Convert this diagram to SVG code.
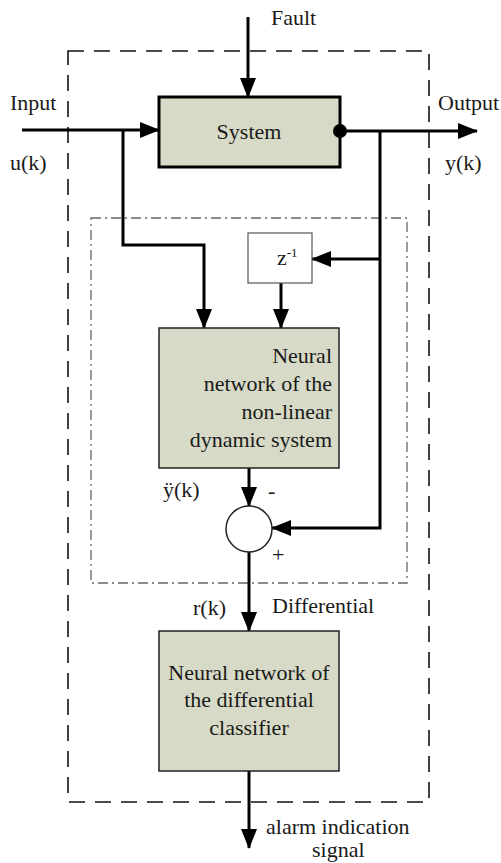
<svg xmlns="http://www.w3.org/2000/svg" width="501" height="863" viewBox="0 0 501 863">
<style>
text{font-family:'Liberation Serif','Times New Roman','DejaVu Serif',serif;font-size:22px;fill:#1a1a1a}
.box{fill:#d7dac6;stroke:#222;stroke-width:1.5}
.wire{fill:none;stroke:#000;stroke-width:3}
.arr{marker-end:url(#ah)}
</style>
<defs>
<marker id="ah" markerUnits="userSpaceOnUse" markerWidth="20" markerHeight="16" refX="19" refY="8" orient="auto">
<path d="M0,0 L20,8 L0,16 z" fill="#000"/>
</marker>
</defs>
<g id="frames">
<rect x="68" y="51" width="361" height="751" fill="none" stroke="#111" stroke-width="1.6" stroke-dasharray="16 10"/>
<rect x="91" y="218" width="316" height="365" fill="none" stroke="#666" stroke-width="1.3" stroke-dasharray="10 4 2 4"/>
</g>
<g id="connectors">
<path class="wire arr" d="M248,17 V97"/>
<path class="wire arr" d="M22,130 H159"/>
<path class="wire arr" d="M340,131 H477"/>
<path class="wire arr" d="M123,130 V245 H204 V328"/>
<path class="wire arr" d="M380,131 V528 H272"/>
<path class="wire arr" d="M380,259 H312"/>
<path class="wire arr" d="M281,283 V328"/>
<path class="wire arr" d="M249,468 V506"/>
<path class="wire arr" d="M249,552 V631"/>
<path class="wire arr" d="M249,771 V848"/>
</g>
<g id="system">
<rect x="159" y="97" width="181" height="70" fill="#d7dac6" stroke="#000" stroke-width="3"/>
<text x="249" y="139" text-anchor="middle">System</text>
<circle cx="340" cy="131" r="7" fill="#000"/>
</g>
<g id="delay">
<rect x="248" y="233" width="64" height="50" fill="#fff" stroke="#555" stroke-width="1.2"/>
<text x="277" y="265">z<tspan font-size="13" dy="-8">-1</tspan></text>
</g>
<g id="nn-system">
<rect class="box" x="159" y="328" width="180" height="140"/>
<text x="332" y="363" text-anchor="end">Neural</text>
<text x="332" y="391" text-anchor="end">network of the</text>
<text x="332" y="419" text-anchor="end">non-linear</text>
<text x="332" y="447" text-anchor="end">dynamic system</text>
</g>
<g id="sum">
<circle cx="249" cy="529" r="23" fill="#fff" stroke="#222" stroke-width="1.5"/>
</g>
<g id="classifier">
<rect class="box" x="159" y="631" width="180" height="140"/>
<text x="249" y="680" text-anchor="middle">Neural network of</text>
<text x="249" y="707" text-anchor="middle">the differential</text>
<text x="249" y="735" text-anchor="middle">classifier</text>
</g>
<g id="labels">
<text x="271" y="25">Fault</text>
<text x="10" y="110">Input</text>
<text x="10" y="170">u(k)</text>
<text x="438" y="110">Output</text>
<text x="445" y="170">y(k)</text>
<text x="163" y="497">ÿ(k)</text>
<text x="268" y="498">-</text>
<text x="272" y="562">+</text>
<text x="193" y="615">r(k)</text>
<text x="272" y="613">Differential</text>
<text x="266" y="834">alarm indication</text>
<text x="312" y="857">signal</text>
</g>
</svg>
